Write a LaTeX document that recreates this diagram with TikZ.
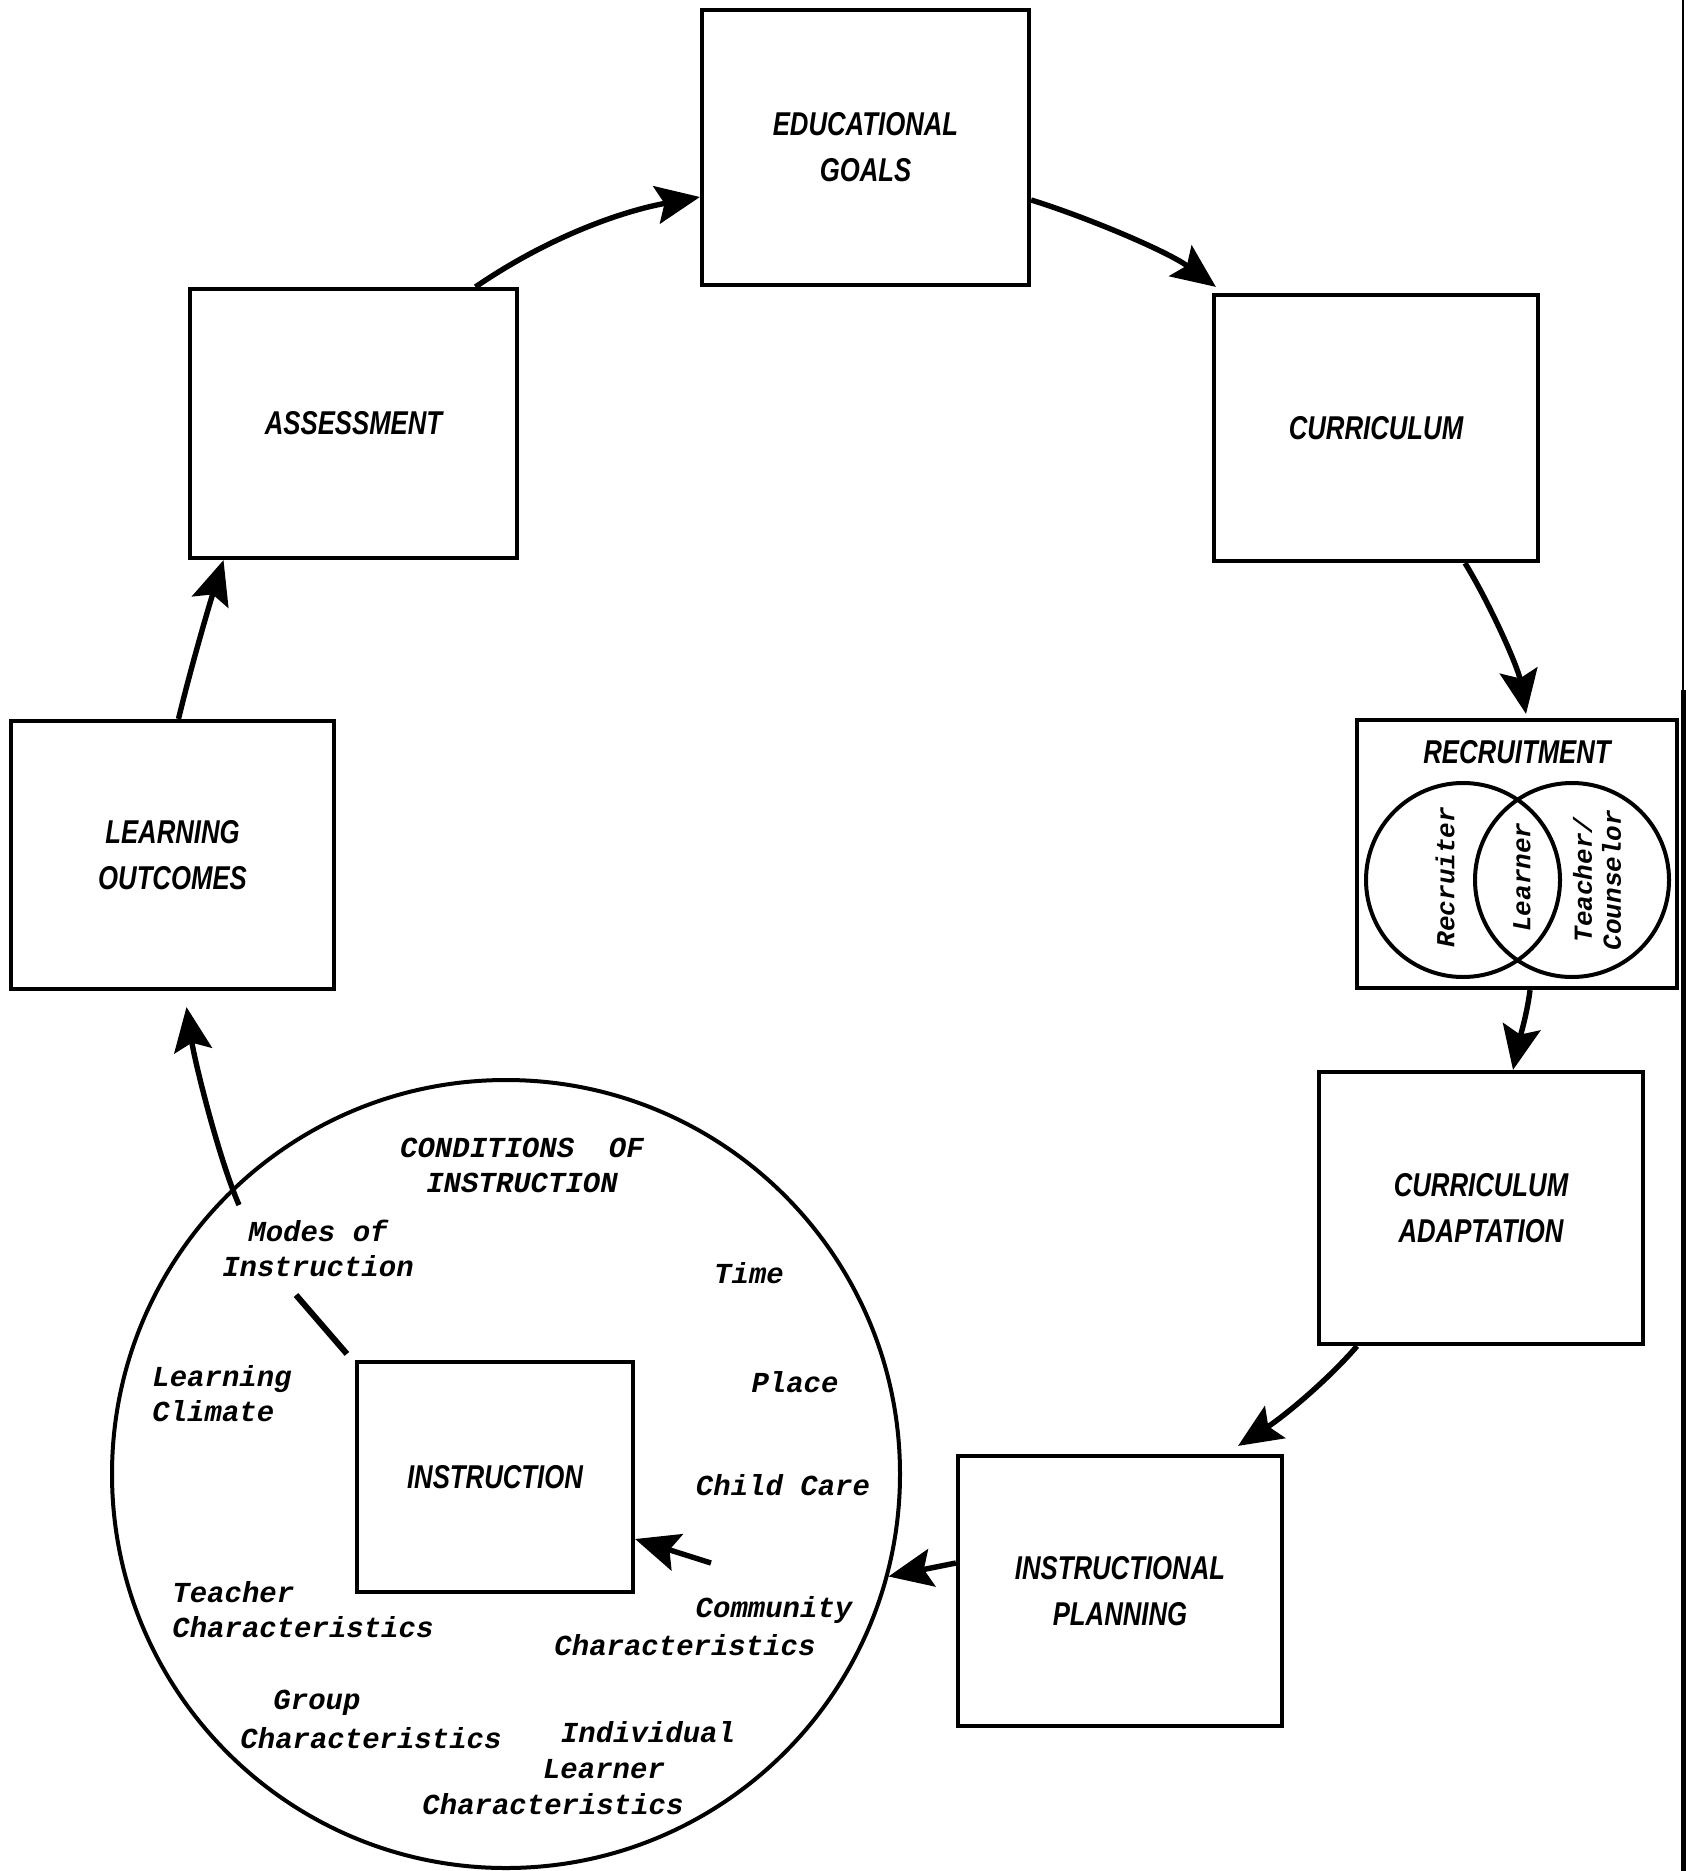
\documentclass[tikz,border=0pt]{standalone}
\usepackage{fontspec}
\setmainfont{Liberation Serif}
\newfontfamily\handfont[FakeStretch=0.78]{Liberation Sans}
\newfontfamily\typefont{Liberation Mono}
\usetikzlibrary{arrows.meta}
\begin{document}
\begin{tikzpicture}[x=0.5pt,y=-0.5pt,
  every node/.style={inner sep=0pt},
  box/.style={draw, line width=2.1pt, rectangle, align=center,
    font=\handfont\bfseries\itshape\fontsize{16.5}{23}\selectfont},
  mono/.style={font=\typefont\bfseries\itshape\fontsize{14.5}{17.5}\selectfont},
  venn/.style={font=\typefont\bfseries\itshape\fontsize{13}{14.5}\selectfont, rotate=90, align=center},
  flow/.style={line width=2.7pt, -{Stealth[length=22pt,width=19pt,inset=4pt]}},
]
\fill[white] (0,0) rectangle (1691,1871);
\useasboundingbox (0,0) rectangle (1691,1871);

% main boxes
\node[box, minimum width=163.5pt, minimum height=137.5pt] (edu) at (865.5,147.5) {EDUCATIONAL\\GOALS};
\node[box, minimum width=163.5pt, minimum height=134.5pt] (assess) at (353.5,423.5) {ASSESSMENT};
\node[box, minimum width=162pt, minimum height=133pt] (curr) at (1376,428) {CURRICULUM};
\node[box, minimum width=160pt, minimum height=134pt] (recr) at (1517,854) {};
\node[box, minimum width=161.5pt, minimum height=134pt] (lo) at (172.5,855) {LEARNING\\OUTCOMES};
\node[box, minimum width=162pt, minimum height=136pt] (adapt) at (1481,1208) {CURRICULUM\\ADAPTATION};
\node[box, minimum width=162pt, minimum height=135pt] (plan) at (1120,1591) {INSTRUCTIONAL\\PLANNING};
\node[box, minimum width=138pt, minimum height=115pt] (instr) at (495,1477) {INSTRUCTION};
\node[draw, circle, line width=2pt, minimum size=394pt] (cond) at (506,1474) {};

% recruitment contents
\node[font=\handfont\bfseries\itshape\fontsize{16.5}{20}\selectfont] (recrtitle) at (1517,752) {RECRUITMENT};
\draw[line width=2pt] (1463,880) circle [radius=97];
\draw[line width=2pt] (1572,880) circle [radius=97];
\node[venn] (recruiter) at (1445,877) {Recruiter};
\node[venn] (learner) at (1522,877) {Learner};
\node[venn] (teacher) at (1597,880) {Teacher/\\Counselor};

% conditions of instruction
\node[mono, align=center] (condtitle) at (522,1165) {CONDITIONS\ \ OF\\INSTRUCTION};
\node[mono, align=center] (modes) at (318,1248) {Modes of\\Instruction};
\node[mono] (time) at (749,1273) {Time};
\node[mono, align=left, anchor=west] (climate) at (152,1394) {Learning\\Climate};
\node[mono] (place) at (795,1382) {Place};
\node[mono] (childcare) at (783,1485) {Child Care};
\node[mono, align=left, anchor=west] (teacherch) at (172,1610) {Teacher\\Characteristics};
\node[mono] (community) at (774,1610) {Community};
\node[mono] (commch) at (685,1645) {Characteristics};
\node[mono] (group) at (317,1703) {Group};
\node[mono] (groupch) at (371,1738) {Characteristics};
\node[mono] (indiv) at (648,1732) {Individual};
\node[mono] (learnerlbl) at (604,1769) {Learner};
\node[mono] (indivch) at (553,1804) {Characteristics};

% free ends
\coordinate (commtail) at (711,1563);
\coordinate (modestail) at (239,1205);
\coordinate (modesline) at (296,1295);

% connectors
\draw[flow] ([xshift=61pt]assess.north) .. controls (550,236) and (623,211) .. ([yshift=-24.75pt]edu.west);
\draw[flow] ([yshift=-26.25pt]edu.east) .. controls (1086,217) and (1167,251) .. ([xshift=2pt,yshift=3pt]curr.north west);
\draw[flow] ([xshift=44.5pt]curr.south) .. controls (1490,604) and (1518,667) .. ([xshift=4.5pt,yshift=2pt]recr.north);
\draw[flow] ([xshift=6.5pt]recr.south) .. controls (1527,1015) and (1518,1045) .. ([xshift=16pt]adapt.north);
\draw[flow] ([xshift=-62pt]adapt.south) .. controls (1327,1381) and (1283,1417) .. ([xshift=59pt,yshift=4pt]plan.north);
\draw[flow] ([yshift=14pt]plan.west) -- (cond.-15);
\draw[flow] (commtail) -- ([yshift=-31pt]instr.east);
\draw[flow] (modestail) .. controls (219,1159) and (195,1063) .. ([xshift=7pt,yshift=-8pt]lo.south);
\draw[flow] ([xshift=3pt]lo.north) .. controls (190,671) and (208,609) .. ([xshift=-65pt]assess.south);
\draw[line width=3pt] (modesline) -- ([xshift=-4pt,yshift=3pt]instr.north west);

% scanned page edge
\draw[line width=0.8pt] (1683,0) -- (1683,690);
\draw[line width=2.5pt] (1683,690) -- (1683,1871);
\end{tikzpicture}
\end{document}
